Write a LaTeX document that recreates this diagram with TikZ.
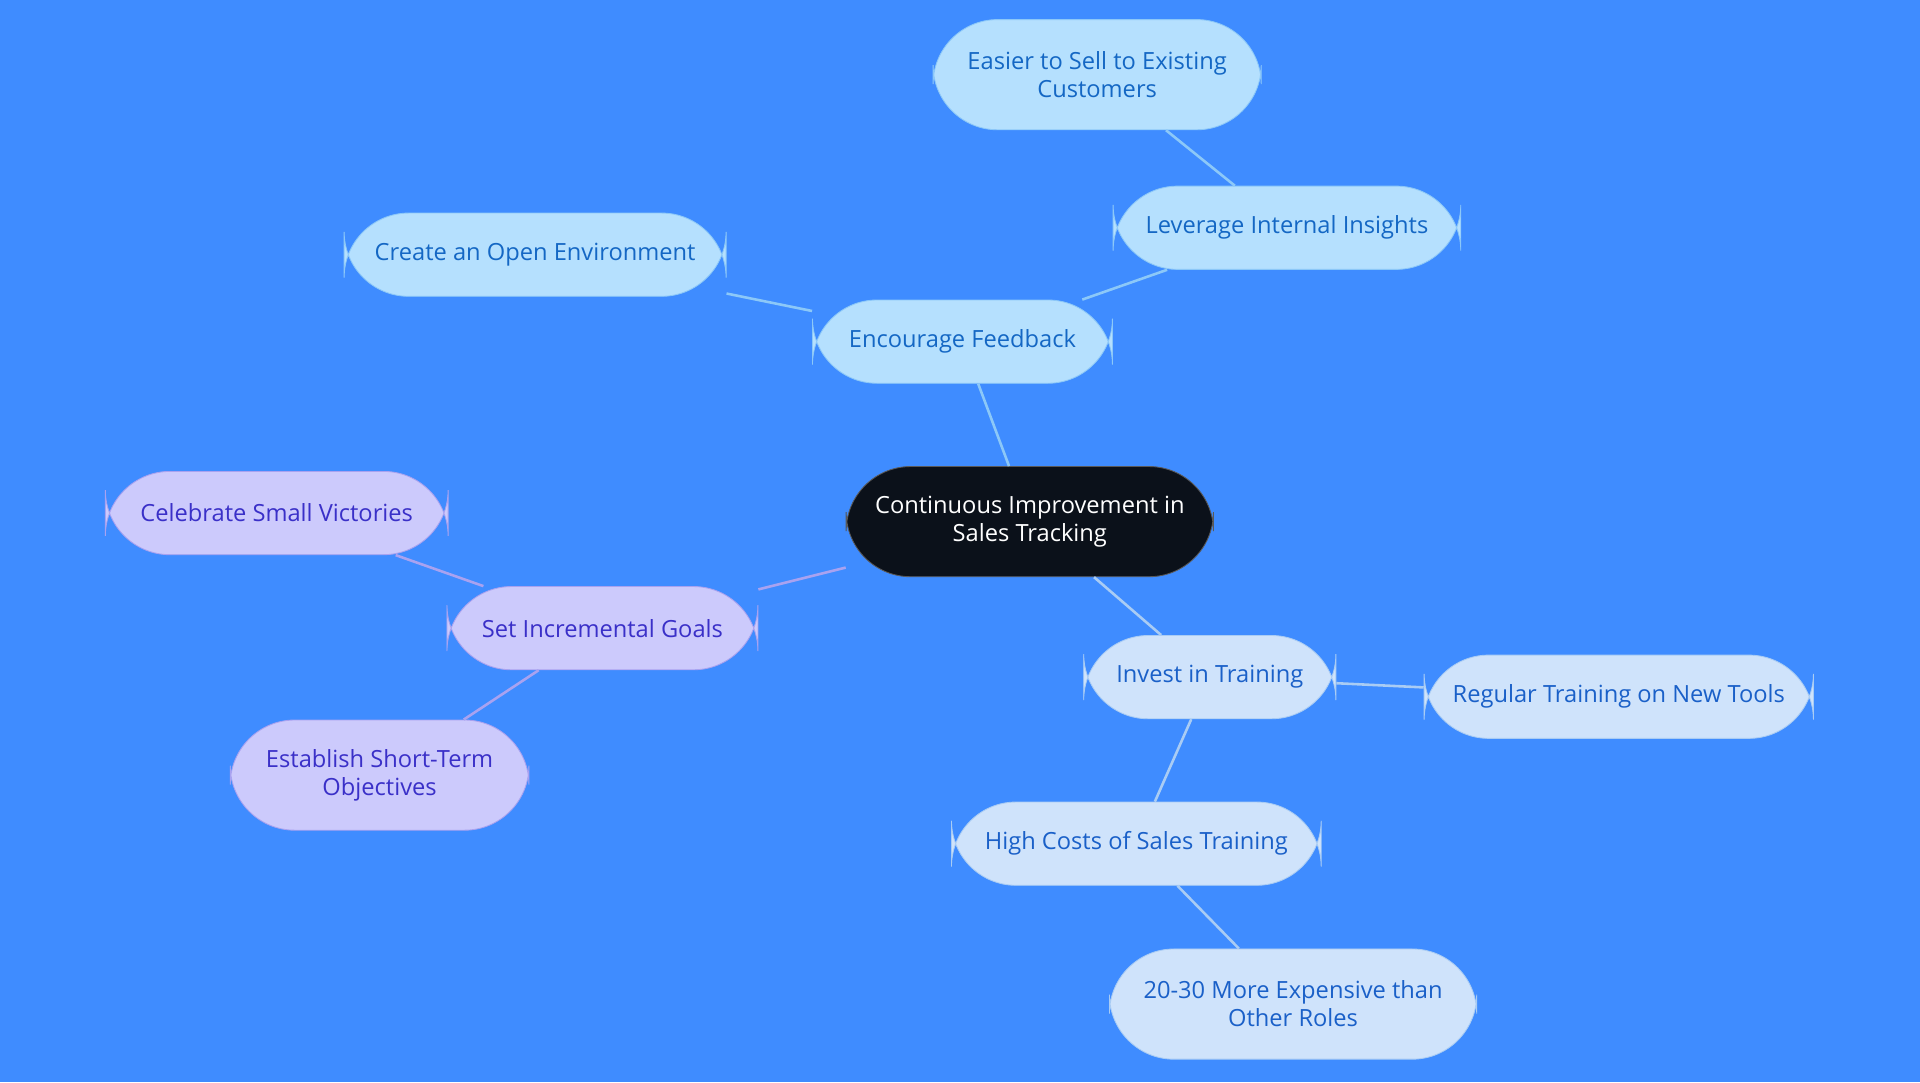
\documentclass[tikz,border=0pt]{standalone}
\usepackage{fontspec}
\setmainfont{Open Sans}
\usepackage{xcolor}
\usepackage{tikz}
\definecolor{bgblue}{HTML}{3F8CFF}
\definecolor{rootfill}{HTML}{0B111A}
\definecolor{skyfill}{HTML}{B5E0FE}
\definecolor{skytext}{HTML}{1467C4}
\definecolor{skyline}{HTML}{8CC8F8}
\definecolor{lavfill}{HTML}{CCCAFC}
\definecolor{lavtext}{HTML}{3A30C8}
\definecolor{lavline}{HTML}{A9A2F0}
\definecolor{palefill}{HTML}{CFE3FB}
\definecolor{paletext}{HTML}{1A60C8}
\definecolor{paleline}{HTML}{A9CCF4}
\tikzset{
  box/.style={rectangle, rounded corners=30, align=center,
    font=\fontsize{11}{13}\selectfont, inner sep=2pt},
  root/.style={box, fill=rootfill, draw=gray!70!black, text=white},
  sky/.style={box, fill=skyfill, draw=skyline, text=skytext},
  lav/.style={box, fill=lavfill, draw=lavline, text=lavtext},
  pale/.style={box, fill=palefill, draw=paleline, text=paletext},
  link/.style={line width=1.2pt}
}
\begin{document}
\begin{tikzpicture}[x=0.02cm, y=-0.02cm]
    \fill[bgblue] (0,0) rectangle (1568,884);
    \useasboundingbox (0,0) rectangle (1568,884);
    % root
    \node[root, minimum width=6cm, minimum height=1.8cm] (cont) at (841,426)
    {Continuous Improvement in\\Sales Tracking};
    % feedback branch
    \node[sky, minimum width=4.9cm, minimum height=1.36cm] (feed) at (786,279)
    {Encourage Feedback};
    \node[sky, minimum width=6.24cm, minimum height=1.36cm] (open) at (437,208)
    {Create an Open Environment};
    \node[sky, minimum width=5.68cm, minimum height=1.36cm] (insight) at (1051,186)
    {Leverage Internal Insights};
    \node[sky, minimum width=5.36cm, minimum height=1.8cm] (easier) at (896,61)
    {Easier to Sell to Existing\\Customers};
    % goals branch
    \node[lav, minimum width=5.08cm, minimum height=1.36cm] (goals) at (492,513)
    {Set Incremental Goals};
    \node[lav, minimum width=5.6cm, minimum height=1.36cm] (celebrate) at (226,419)
    {Celebrate Small Victories};
    \node[lav, minimum width=4.88cm, minimum height=1.8cm] (short) at (310,633)
    {Establish Short-Term\\Objectives};
    % training branch
    \node[pale, minimum width=4.12cm, minimum height=1.36cm] (train) at (988,553)
    {Invest in Training};
    \node[pale, minimum width=6.36cm, minimum height=1.36cm] (tools) at (1322,569)
    {Regular Training on New Tools};
    \node[pale, minimum width=6.04cm, minimum height=1.36cm] (costs) at (928,689)
    {High Costs of Sales Training};
    \node[pale, minimum width=6cm, minimum height=1.8cm] (expensive) at (1056,820)
    {20-30 More Expensive than\\Other Roles};
    % links
    \draw[link, skyline] (cont) -- (feed);
    \draw[link, skyline] (feed) -- (open);
    \draw[link, skyline] (feed) -- (insight);
    \draw[link, skyline] (insight) -- (easier);
    \draw[link, lavline] (cont) -- (goals);
    \draw[link, lavline] (goals) -- (celebrate);
    \draw[link, lavline] (goals) -- (short);
    \draw[link, paleline] (cont) -- (train);
    \draw[link, paleline] (train) -- (tools);
    \draw[link, paleline] (train) -- (costs);
    \draw[link, paleline] (costs) -- (expensive);
\end{tikzpicture}
\end{document}
